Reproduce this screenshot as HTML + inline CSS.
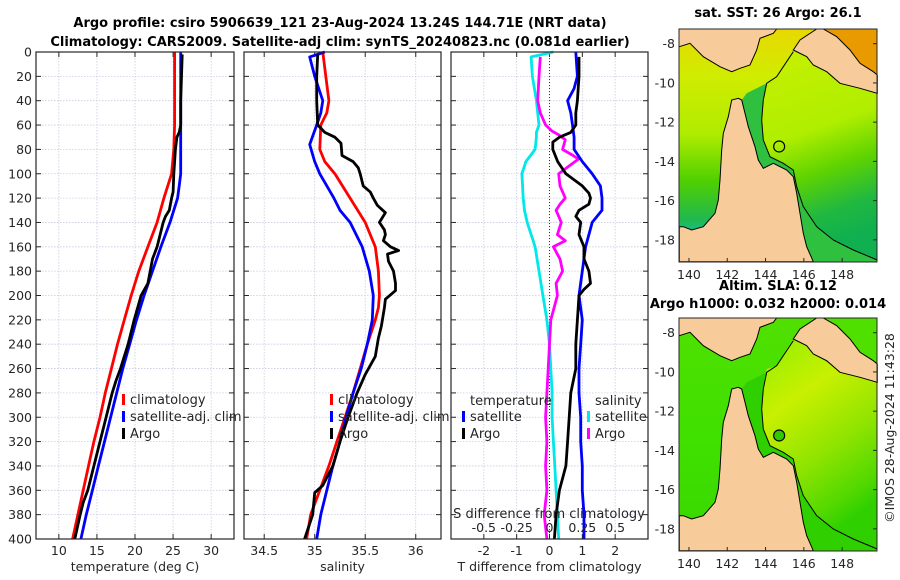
<!DOCTYPE html>
<html><head><meta charset="utf-8"><style>
html,body{margin:0;padding:0;background:#fff;}
svg{display:block;font-family:"DejaVu Sans","Liberation Sans",sans-serif;}
.tk{font-size:12.5px;fill:#262626;}
.ttl{font-size:13px;font-weight:bold;fill:#000;}
</style></head><body>
<svg id="fig" width="900" height="580" viewBox="0 0 900 580">
<text class="ttl" x="340" y="27" text-anchor="middle">Argo profile: csiro 5906639_121 23-Aug-2024 13.24S 144.71E (NRT data)</text>
<text class="ttl" x="340" y="46" text-anchor="middle">Climatology: CARS2009. Satellite-adj clim: synTS_20240823.nc (0.081d earlier)</text>
<g id="panels"></g>
<g id="maps"></g>
<text x="894" y="428" class="tk" transform="rotate(-90 894 428)" text-anchor="middle">©IMOS 28-Aug-2024 11:43:28</text>
</svg>
<script>
// ---------- data ----------
const depthTicks=[0,20,40,60,80,100,120,140,160,180,200,220,240,260,280,300,320,340,360,380,400];
const tempTicks=[10,15,20,25,30];
const salTicks=[34.5,35,35.5,36];
const tdiffTicks=[-2,-1,0,1,2];
const sdiffTicks=[-0.5,-0.25,0,0.25,0.5];
const sdiffTickLabels=["-0.5","-0.25","0","0.25","0.5"];

const tClimD=[0,60,80,100,120,140,160,180,200,220,240,260,280,300,320,340,360,380,400];
const tClimV=[25.2,25.2,25.1,24.8,23.8,22.9,21.7,20.5,19.5,18.6,17.7,16.9,16.1,15.4,14.6,13.9,13.2,12.5,11.8];
const tSatD=[0,40,80,100,110,120,140,160,180,200,220,240,260,280,300,320,340,360,380,400];
const tSatV=[26.0,26.0,26.0,26.0,25.8,25.6,24.6,23.4,22.3,21.2,20.2,19.3,18.4,17.6,16.8,16.0,15.2,14.4,13.6,12.9];
const tArgoD=[2,20,40,60,66,70,80,100,115,120,130,135,140,160,170,180,190,200,220,240,260,270,280,300,320,340,360,370,380,400];
const tArgoV=[26.2,26.1,26.0,26.0,25.8,25.5,25.3,25.1,25.0,24.8,24.5,24.0,23.7,22.9,22.3,22.0,21.7,20.8,19.9,19.1,18.1,17.5,17.0,16.2,15.4,14.6,13.8,13.2,12.8,12.1];

const sClimD=[0,20,40,50,60,80,90,100,120,140,160,180,200,210,220,240,260,280,300,320,340,360,380,400];
const sClimV=[35.08,35.11,35.14,35.12,35.06,35.05,35.1,35.2,35.35,35.5,35.6,35.63,35.64,35.63,35.6,35.52,35.45,35.38,35.3,35.22,35.14,35.05,34.96,34.92];
const sSatD=[0,4,20,40,50,60,76,90,100,120,130,140,160,180,200,220,240,260,280,300,320,340,360,380,400];
const sSatV=[35.1,34.95,35.0,35.08,35.06,35.02,34.95,35.0,35.05,35.19,35.25,35.35,35.47,35.54,35.58,35.57,35.52,35.46,35.38,35.31,35.25,35.18,35.12,35.06,35.02];
const sArgoD=[2,20,40,60,66,70,75,85,90,95,100,110,115,120,126,132,140,146,150,155,160,163,166,172,180,190,196,203,210,225,235,250,265,280,300,320,340,356,362,380,400];
const sArgoV=[35.03,35.02,35.02,35.03,35.1,35.2,35.26,35.27,35.38,35.43,35.45,35.48,35.55,35.58,35.62,35.7,35.64,35.69,35.7,35.68,35.75,35.83,35.72,35.73,35.78,35.8,35.8,35.7,35.69,35.66,35.63,35.6,35.5,35.42,35.33,35.25,35.18,35.08,35.0,34.98,34.9];

const dTSatD=[0,20,30,40,50,60,70,80,90,100,110,120,130,140,150,160,180,200,220,240,260,280,300,320,340,360,380,400];
const dTSatV=[0.8,0.85,0.75,0.55,0.65,0.7,0.75,0.75,1.0,1.3,1.55,1.6,1.6,1.3,1.2,1.1,1.0,0.9,1.0,0.95,0.9,0.9,0.95,0.95,1.0,1.0,1.05,1.05];
const dTArgoD=[4,20,40,50,60,66,70,74,80,90,100,110,116,120,125,130,135,140,150,160,170,180,190,195,200,220,240,260,280,300,320,340,360,380,400];
const dTArgoV=[0.9,0.9,0.85,0.8,0.8,0.65,0.3,0.1,0.1,0.25,0.5,1.0,1.2,1.25,1.2,0.9,0.8,0.95,0.9,1.05,1.05,1.2,1.25,1.05,0.9,0.85,0.8,0.8,0.65,0.6,0.55,0.5,0.3,0.2,0.15];
const dSSatD=[0,4,20,40,60,66,70,80,90,100,120,130,140,160,180,200,220,240,260,280,300,320,340,360,380,400];
const dSSatV=[0.03,-0.14,-0.13,-0.1,-0.08,-0.1,-0.1,-0.11,-0.18,-0.21,-0.2,-0.19,-0.17,-0.11,-0.08,-0.05,-0.02,0.0,0.01,0.02,0.02,0.03,0.04,0.05,0.06,0.07];
const dSArgoD=[4,20,40,50,60,65,68,72,80,85,88,92,100,110,120,125,130,140,150,155,160,170,180,190,200,220,240,260,280,300,320,340,360,380,400];
const dSArgoV=[-0.07,-0.08,-0.09,-0.07,-0.03,0.02,0.07,0.12,0.1,0.18,0.22,0.17,0.07,0.08,0.12,0.08,0.05,0.09,0.06,0.12,0.03,0.08,0.1,0.05,0.06,0.01,0.0,-0.01,-0.02,-0.03,-0.02,-0.03,-0.02,-0.04,-0.02];

const lonTicks=[140,142,144,146,148];
const latTicks=[-8,-10,-12,-14,-16,-18];
const argoLon=144.71, argoLat=-13.24;

// ---------- helpers ----------
const NS="http://www.w3.org/2000/svg";
function mk(tag,attrs,parent){const e=document.createElementNS(NS,tag);for(const k in attrs)e.setAttribute(k,attrs[k]);parent.appendChild(e);return e;}
const PT=52, PB=539;
const yD=d=>PT+(d/400)*(PB-PT);
const panelsG=document.getElementById('panels');

function panel(name,x0,x1,xmin,xmax,ticks,xlabel,showY){
  const g=mk('g',{},panelsG);
  
  
  const sx=v=>x0+(v-xmin)/(xmax-xmin)*(x1-x0);
  depthTicks.forEach(d=>{
    const gl=mk('line',{x1:x0,x2:x1,y1:yD(d),y2:yD(d),stroke:'#c8cce0','stroke-width':0.8,'stroke-dasharray':'1.5,1.5'},g);
    
    
    mk('line',{x1:x0,x2:x0+5,y1:yD(d),y2:yD(d),stroke:'#262626','stroke-width':1},g);
    mk('line',{x1:x1-5,x2:x1,y1:yD(d),y2:yD(d),stroke:'#262626','stroke-width':1},g);
    if(showY){const t=mk('text',{x:x0-4,y:yD(d)+4.5,'text-anchor':'end',class:'tk'},g);t.textContent=d;
      
      }
  });
  ticks.forEach(v=>{
    const gl=mk('line',{x1:sx(v),x2:sx(v),y1:PT,y2:PB,stroke:'#c8cce0','stroke-width':0.8,'stroke-dasharray':'1.5,1.5'},g);
    
    
    mk('line',{x1:sx(v),x2:sx(v),y1:PB-5,y2:PB,stroke:'#262626'},g);
    mk('line',{x1:sx(v),x2:sx(v),y1:PT,y2:PT+5,stroke:'#262626'},g);
    const t=mk('text',{x:sx(v),y:PB+16,'text-anchor':'middle',class:'tk'},g);t.textContent=v;
    
    
  });
  const xl=mk('text',{x:(x0+x1)/2,y:PB+32,'text-anchor':'middle',class:'tk'},g);xl.textContent=xlabel;
  
  
  return {g,sx};
}
function line(p,D,V,color,name,w){
  const pts=D.map((d,i)=>p.sx(V[i]).toFixed(1)+','+yD(d).toFixed(1)).join(' ');
  const l=mk('polyline',{points:pts,fill:'none',stroke:color,'stroke-width':w||2.8,'stroke-linejoin':'round'},p.g);
  
  
}
function frame(p,x0,x1){mk('rect',{x:x0,y:PT,width:x1-x0,height:PB-PT,fill:'none',stroke:'#262626','stroke-width':1.2},p.g);}
function legendItem(g,x,y,color,label,name){
  const it=mk('g',{},g);
  
  
  mk('rect',{x:x,y:y-10,width:3,height:11,fill:color},it);
  const t=mk('text',{x:x+8,y:y,class:'tk',style:'font-size:13px'},it);t.textContent=label;
}

// Panel 1
const p1=panel('temperature-panel',36,234,7,33,tempTicks,'temperature (deg C)',true);
line(p1,tClimD,tClimV,'#ff0000','temperature-climatology-line');
line(p1,tSatD,tSatV,'#0000ff','temperature-satellite-line');
line(p1,tArgoD,tArgoV,'#000000','temperature-argo-line');
frame(p1,36,234);
legendItem(p1.g,122,404,'#ff0000','climatology','legend-climatology');
legendItem(p1.g,122,421,'#0000ff','satellite-adj. clim','legend-satellite');
legendItem(p1.g,122,438,'#000000','Argo','legend-argo');

// Panel 2
const p2=panel('salinity-panel',244,441,34.3,36.25,salTicks,'salinity',false);
line(p2,sClimD,sClimV,'#ff0000','salinity-climatology-line');
line(p2,sSatD,sSatV,'#0000ff','salinity-satellite-line');
line(p2,sArgoD,sArgoV,'#000000','salinity-argo-line');
frame(p2,244,441);
legendItem(p2.g,330,404,'#ff0000','climatology','legend-climatology');
legendItem(p2.g,330,421,'#0000ff','satellite-adj. clim','legend-satellite');
legendItem(p2.g,330,438,'#000000','Argo','legend-argo');

// Panel 3
const p3=panel('difference-panel',451,648,-3,3,tdiffTicks,'T difference from climatology',false);
const zl=mk('line',{x1:p3.sx(0),x2:p3.sx(0),y1:PT,y2:PB,stroke:'#333','stroke-width':1,'stroke-dasharray':'1,2'},p3.g);


const p3s={g:p3.g,sx:v=>p3.sx(v*4)};
line(p3s,dSSatD,dSSatV,'#00e8e8','salinity-diff-satellite-line');
line(p3s,dSArgoD,dSArgoV,'#ff00ff','salinity-diff-argo-line');
line(p3,dTSatD,dTSatV,'#0000ff','temperature-diff-satellite-line');
line(p3,dTArgoD,dTArgoV,'#000000','temperature-diff-argo-line');
frame(p3,451,648);
{const t=mk('text',{x:470,y:405,class:'tk',style:'font-size:13px'},p3.g);t.textContent='temperature';

const t2=mk('text',{x:595,y:405,class:'tk',style:'font-size:13px'},p3.g);t2.textContent='salinity';
}
legendItem(p3.g,462,421,'#0000ff','satellite','legend-temp-satellite');
legendItem(p3.g,462,438,'#000000','Argo','legend-temp-argo');
legendItem(p3.g,587,421,'#00e8e8','satellite','legend-sal-satellite');
legendItem(p3.g,587,438,'#ff00ff','Argo','legend-sal-argo');
{const t=mk('text',{x:549,y:518,'text-anchor':'middle',class:'tk',style:'font-size:13px'},p3.g);t.textContent='S difference from climatology';

sdiffTicks.forEach((v,i)=>{const s=mk('text',{x:p3s.sx(v),y:532,'text-anchor':'middle',class:'tk'},p3.g);s.textContent=sdiffTickLabels[i];
});}

// ---------- maps ----------
const mapsG=document.getElementById('maps');
const MX0=679,MX1=877,LON0=139.48,LON1=149.82,LAT0=-7.25,LAT1=-19.13,MH=233;
function drawMap(name,top,seaStops,shelfColor,cornerColor,title1,title2,cy,cx){
  const g=mk('g',{},mapsG);
  
  
  const mx=lon=>MX0+(lon-LON0)/(LON1-LON0)*(MX1-MX0);
  const my=lat=>top+(lat-LAT0)/(LAT1-LAT0)*MH;
  const id=name+'-grad';
  const defs=mk('defs',{},g);
  seaStops.forEach((gs,k)=>{
    const gr=mk('linearGradient',{id:id+k,x1:gs.x1,y1:gs.y1,x2:gs.x2,y2:gs.y2},defs);
    gs.stops.forEach(s=>mk('stop',{offset:s[0],'stop-color':s[1]},gr));
  });
  mk('rect',{x:MX0,y:top,width:MX1-MX0,height:MH,fill:'url(#'+id+'0)'},g);
  const z=s=>{const p=s.split(',');return (660+(+p[0])/3).toFixed(1)+','+(top-29+(+p[1])/3).toFixed(1);};
  const P=a=>a.map(z).join(' ');
  // Coral sea
  mk('polygon',{points:P(['320,240','350,230','380,180','400,150','440,170','460,195','520,230','600,265','652,280','652,785','460,785','430,700','410,580','400,530','380,510','340,490','310,505','295,480','300,420','310,300']),fill:'url(#'+id+'1)'},g);
  // inner shelf
  mk('polygon',{points:P(['320,250','310,300','305,360','310,420','330,470','370,490','400,510','410,560','430,620','470,680','520,720','580,750','652,780','652,785','460,785','440,740','430,700','420,640','410,580','400,530','380,510','340,490','310,505','295,480','285,440','265,380','255,340','245,300','260,280']),fill:shelfColor},g);
  // orange corner (Solomon Sea)
  mk('polygon',{points:P(['490,87','652,87','652,225','640,215','600,190','570,150','530,110']),fill:cornerColor},g);
  const land='#f8cb9a';
  // PNG west
  mk('polygon',{points:P(['58,87','58,140','90,130','130,170','180,200','215,215','240,205','270,195','290,150','300,115','340,100','350,87']),fill:land},g);
  mk('polyline',{points:P(['58,140','90,130','130,170','180,200','215,215','240,205','270,195','290,150','300,115','340,100','350,87']),fill:'none',stroke:'#000','stroke-width':1},g);
  // PNG tail
  mk('polygon',{points:P(['470,87','490,87','530,110','570,150','600,190','640,215','652,225','652,280','600,265','540,250','500,215','460,195','440,170','400,150','420,120']),fill:land,stroke:'#000','stroke-width':1},g);
  // Cape York / Queensland
  mk('polygon',{points:P(['235,295','215,300','205,350','190,400','185,450','180,540','175,600','165,640','130,680','95,690','70,680','58,680','58,785','460,785','440,740','430,700','420,640','410,580','400,530','380,510','340,490','310,505','295,480','285,440','265,380','255,340','245,300']),fill:land,stroke:'#000','stroke-width':1},g);
  // shelf contour
  mk('polyline',{points:P(['400,155','370,200','350,230','320,250','310,300','305,360','310,420','330,470','370,490','400,510','410,560','430,620','470,680','520,720','580,750','652,780']),fill:'none',stroke:'#000','stroke-width':1},g);
  const c=mk('circle',{cx:mx(argoLon),cy:my(argoLat),r:5.5,fill:cx,stroke:'#000','stroke-width':1.2},g);
  
  
  mk('rect',{x:MX0,y:top,width:MX1-MX0,height:MH,fill:'none',stroke:'#262626','stroke-width':1},g);
  lonTicks.forEach(v=>{
    mk('line',{x1:mx(v),x2:mx(v),y1:top+MH-4,y2:top+MH,stroke:'#262626'},g);
    const t=mk('text',{x:mx(v),y:top+MH+17,'text-anchor':'middle',class:'tk'},g);t.textContent=v;
    });
  latTicks.forEach(v=>{
    mk('line',{x1:MX1-4,x2:MX1,y1:my(v),y2:my(v),stroke:'#262626'},g);
    const t=mk('text',{x:MX0-4,y:my(v)+4.5,'text-anchor':'end',class:'tk'},g);t.textContent=v;
    });
  const t1=mk('text',{x:778,y:cy,'text-anchor':'middle',class:'ttl'},g);t1.textContent=title1;
  
  if(title2){const t2=mk('text',{x:768,y:cy+18,'text-anchor':'middle',class:'ttl'},g);t2.textContent=title2;
  }
}
drawMap('sst-map',29,[
 {x1:0,y1:0,x2:0,y2:1,stops:[[0,'#e8d800'],[0.2,'#d0ec00'],[0.45,'#b0ec00'],[0.65,'#50d000'],[0.82,'#20b850'],[0.92,'#10c8c0'],[1,'#30c8d0']]},
 {x1:0,y1:0,x2:0.2,y2:1,stops:[[0,'#c8f000'],[0.45,'#b0ee00'],[0.65,'#60d400'],[0.85,'#20b840'],[1,'#10b050']]}
],'#30c040','#e89a00','sat. SST: 26 Argo: 26.1',null,17,'none');
drawMap('sla-map',318,[
 {x1:0,y1:0,x2:0,y2:1,stops:[[0,'#50e000'],[0.5,'#40e000'],[1,'#38d800']]},
 {x1:0,y1:0,x2:0.4,y2:1,stops:[[0,'#90ee00'],[0.35,'#c8f000'],[0.65,'#90e400'],[0.9,'#50d800'],[1,'#30d000']]}
],'#30d000','#50e000','Altim. SLA: 0.12','Argo h1000: 0.032 h2000: 0.014',290,'#30c800');
</script>
</body></html>
